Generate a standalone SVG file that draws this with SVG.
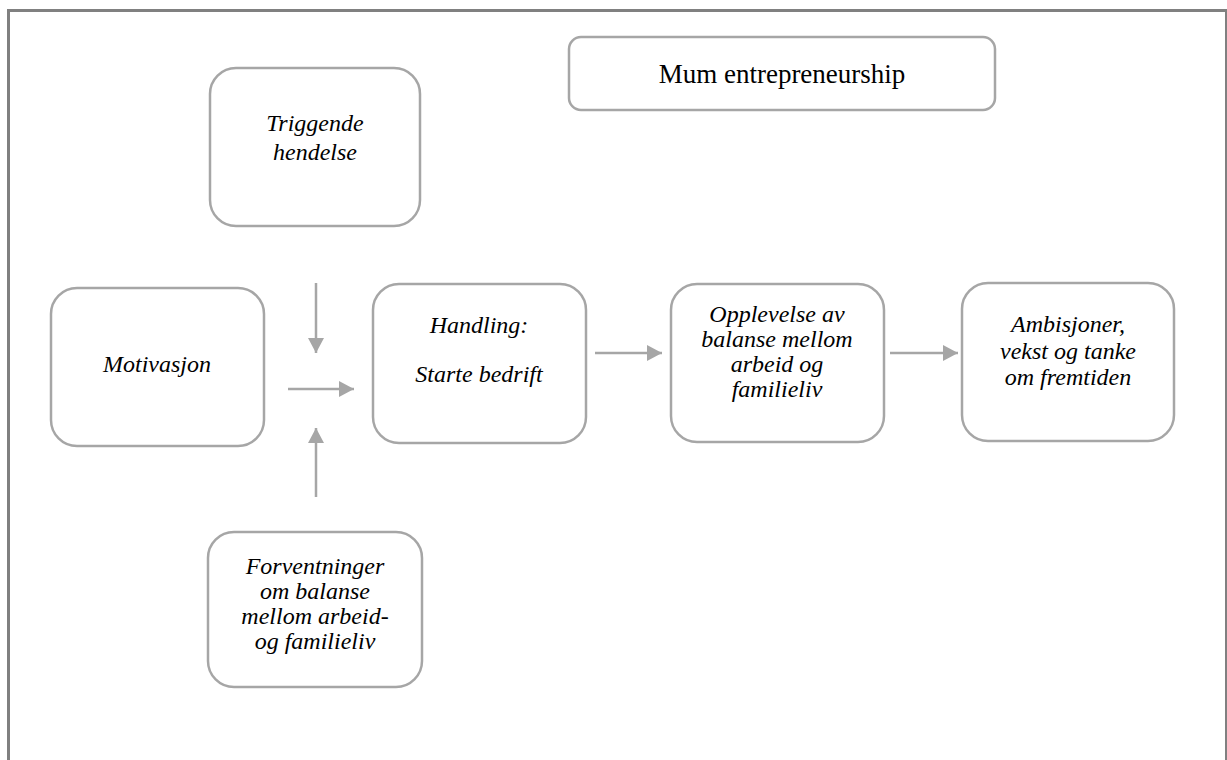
<svg xmlns="http://www.w3.org/2000/svg" width="1227" height="760" viewBox="0 0 1227 760">
<style>
.box{fill:#ffffff;stroke:#a6a6a6;stroke-width:2.5}
.t{font-family:"Liberation Serif","Times New Roman",serif;font-style:italic;font-size:24px;fill:#000;text-anchor:middle}
.title{font-family:"Liberation Serif","Times New Roman",serif;font-size:27px;fill:#000;text-anchor:middle}
.conn{stroke:#a6a6a6;stroke-width:2.5;fill:none;marker-end:url(#ah)}
</style>
<defs>
<marker id="ah" markerUnits="userSpaceOnUse" markerWidth="16" markerHeight="16" refX="15" refY="8" orient="auto">
<path d="M0,0 L15,8 L0,16 Z" fill="#a6a6a6"/>
</marker>
</defs>
<rect width="1227" height="760" fill="#ffffff"/>
<g id="frame" stroke="#808080" fill="none">
<line x1="7" y1="10.5" x2="1227" y2="10.5" stroke-width="3"/>
<line x1="8.5" y1="9" x2="8.5" y2="760" stroke-width="3"/>
<line x1="1226" y1="9" x2="1226" y2="760" stroke-width="2"/>
</g>
<g id="connectors">
<line class="conn" x1="316" y1="283" x2="316" y2="353"/>
<line class="conn" x1="288" y1="389" x2="354" y2="389"/>
<line class="conn" x1="316" y1="497" x2="316" y2="428"/>
<line class="conn" x1="595" y1="353" x2="662" y2="353"/>
<line class="conn" x1="890" y1="353" x2="958" y2="353"/>
</g>
<g id="title">
<rect class="box" x="569" y="37" width="426" height="73" rx="12"/>
<text class="title" x="782" y="83">Mum entrepreneurship</text>
</g>
<g id="triggende">
<rect class="box" x="210" y="68" width="210" height="158" rx="26"/>
<text class="t" x="315" y="131">Triggende</text>
<text class="t" x="315" y="160">hendelse</text>
</g>
<g id="motivasjon">
<rect class="box" x="51" y="288" width="213" height="158" rx="26"/>
<text class="t" x="157" y="372">Motivasjon</text>
</g>
<g id="handling">
<rect class="box" x="373" y="284" width="213" height="159" rx="26"/>
<text class="t" x="479" y="333">Handling:</text>
<text class="t" x="479" y="382">Starte bedrift</text>
</g>
<g id="opplevelse">
<rect class="box" x="671" y="284" width="213" height="158" rx="26"/>
<text class="t" x="777" y="322">Opplevelse av</text>
<text class="t" x="777" y="347">balanse mellom</text>
<text class="t" x="777" y="372">arbeid og</text>
<text class="t" x="777" y="397">familieliv</text>
</g>
<g id="ambisjoner">
<rect class="box" x="962" y="283" width="212" height="158" rx="26"/>
<text class="t" x="1068" y="332">Ambisjoner,</text>
<text class="t" x="1068" y="359">vekst og tanke</text>
<text class="t" x="1068" y="385">om fremtiden</text>
</g>
<g id="forventninger">
<rect class="box" x="208" y="532" width="214" height="155" rx="26"/>
<text class="t" x="315" y="574">Forventninger</text>
<text class="t" x="315" y="599">om balanse</text>
<text class="t" x="315" y="624">mellom arbeid-</text>
<text class="t" x="315" y="649">og familieliv</text>
</g>
</svg>
